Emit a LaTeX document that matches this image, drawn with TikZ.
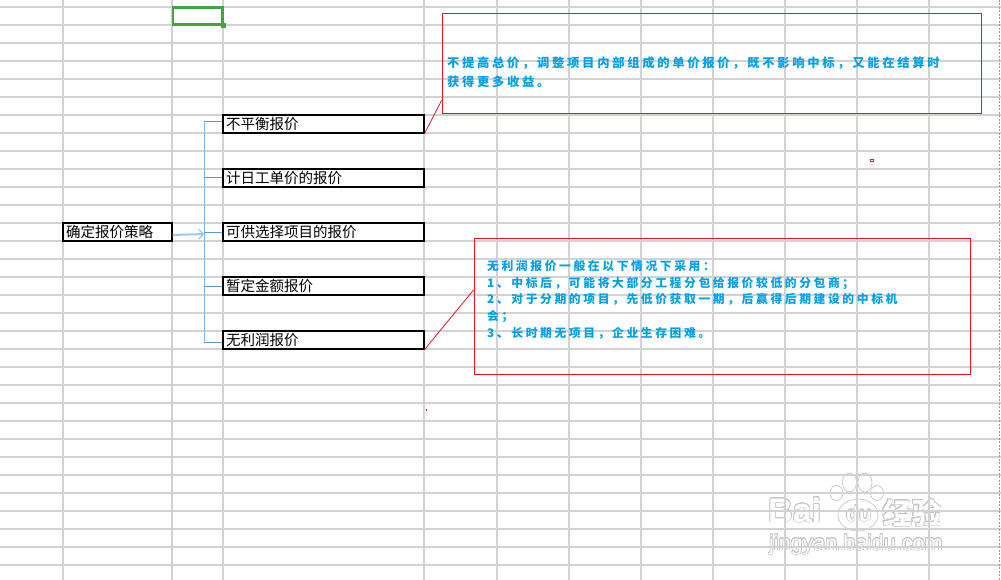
\documentclass[tikz,border=0pt]{standalone}
\usepackage{fontspec}
\usepackage{contour}
\usetikzlibrary{arrows.meta,calc}
\newfontfamily\cjk{Noto Sans CJK SC}
\newfontfamily\cjkA[LetterSpace=22]{Noto Sans CJK SC}
\newfontfamily\cjkB[LetterSpace=22]{Noto Sans CJK SC}
\newfontfamily\wmfont{Liberation Sans}
\definecolor{gridc}{RGB}{210,210,210}
\definecolor{selgreen}{RGB}{65,165,70}
\definecolor{trunkc}{RGB}{130,180,230}
\definecolor{stubc}{RGB}{91,155,213}
\definecolor{arrowc}{RGB}{160,200,236}
\definecolor{notered}{RGB}{232,20,40}
\definecolor{noteblue}{RGB}{0,160,233}
\contourlength{0.7pt}
\tikzset{
  gridline/.style={draw=gridc, line width=1.1pt},
  box/.style={draw=black, line width=1.1pt, fill=white, minimum height=18pt,
    inner xsep=3pt, inner ysep=0pt, font=\cjk\fontsize{14.5}{14.5}\selectfont},
  notebox/.style={draw=notered, line width=1pt, inner sep=0pt},
  notetext/.style={text=noteblue, inner sep=0pt, align=left, anchor=north west},
  trunkline/.style={draw=trunkc, line width=1.6pt},
  stubline/.style={draw=stubc, line width=1pt},
  arrowline/.style={draw=arrowc, line width=2pt, -{Straight Barb[length=5pt,width=10pt,line width=1.2pt]}},
  redline/.style={draw=notered, line width=0.8pt},
  wmshape/.style={draw=gray!45, fill=white, line width=0.7pt},
  wmtext/.style={inner sep=0pt, anchor=base west},
}
\begin{document}
\begin{tikzpicture}[x=1pt,y=-1pt]
\useasboundingbox (0,0) rectangle (1001,580);
\fill[white] (0,0) rectangle (1001,580);
% ---- watermark (under the grid)
\draw[wmshape] (849.5,482.5) ellipse [x radius=7, y radius=9.5];
\draw[wmshape] (865,482.5) ellipse [x radius=7, y radius=9.5];
\draw[wmshape] (836.5,493) ellipse [x radius=6.5, y radius=7.5];
\draw[wmshape] (877,493) ellipse [x radius=6.5, y radius=7.5];
\draw[wmshape] (858,515) ellipse [x radius=20, y radius=16];
\node[wmtext, font=\wmfont\bfseries\fontsize{34}{34}\selectfont] (wmBai) at (768,522) {\contour{gray!45}{\textcolor{white}{Bai}}};
\node[wmtext, font=\wmfont\bfseries\fontsize{21}{21}\selectfont] (wmdu) at (846,521) {\contour{gray!45}{\textcolor{white}{du}}};
\node[wmtext, font=\cjk\bfseries\fontsize{29}{29}\selectfont] (wmjy) at (883,524) {\contour{gray!45}{\textcolor{white}{经验}}};
\node[wmtext, font=\wmfont\fontsize{21.5}{21.5}\selectfont] (wmurl) at (769,550) {\contour{gray!45}{\textcolor{white}{jingyan.baidu.com}}};
% ---- grid
\foreach \k in {0,...,31} \draw[gridline] (0,{7+18*\k}) -- (1001,{7+18*\k});
\foreach \x in {63,172,223,424,497,569,641,713,785,857,929} \draw[gridline] (\x,0) -- (\x,580);
\draw[draw=gray!80, line width=1pt, dash pattern=on 2pt off 1.5pt] (999.5,0) -- (999.5,580);
% ---- selected cell
\draw[selgreen, line width=2.5pt] (173.2,7.3) rectangle (222.7,24.7);
\fill[selgreen] (221,23) rectangle (226,28);
% ---- boxes
\node[box, text width=103pt] (root) at (117.5,232) {确定报价策略};
\node[box, text width=195pt] (b1) at (323.5,124) {不平衡报价};
\node[box, text width=195pt] (b2) at (323.5,178) {计日工单价的报价};
\node[box, text width=195pt] (b3) at (323.5,232) {可供选择项目的报价};
\node[box, text width=195pt] (b4) at (323.5,286) {暂定金额报价};
\node[box, text width=195pt] (b5) at (323.5,340) {无利润报价};
% ---- connectors
\coordinate (trunk) at (204.3,0);
\draw[trunkline] ([yshift=2pt]b1.west -| trunk) -- ([yshift=-2pt]b5.west -| trunk);
\draw[stubline] ([yshift=2pt]b1.west -| trunk) -- ([yshift=2pt]b1.west);
\foreach \b in {b2,b3,b4} \draw[stubline] (\b.west -| trunk) -- (\b.west);
\draw[stubline] ([yshift=-2pt]b5.west -| trunk) -- ([yshift=-2pt]b5.west);
\draw[arrowline] ([yshift=-3pt]root.east) -- ([yshift=-2pt]root.east -| trunk);
% ---- notes
\node[notebox, minimum width=539pt, minimum height=100pt] (note1) at (711.5,64) {};
\node[notebox, minimum width=496pt, minimum height=136pt] (note2) at (722,306) {};
\node[notetext, font=\cjkA\bfseries\fontsize{12.3}{19}\selectfont] (t1) at (447,56.5)
  {不提高总价，调整项目内部组成的单价报价，既不影响中标，又能在结算时\\获得更多收益。};
\node[notetext, font=\cjkB\bfseries\fontsize{11.8}{16.7}\selectfont] (t2) at (487,260)
  {无利润报价一般在以下情况下采用：\\1、中标后，可能将大部分工程分包给报价较低的分包商；\\2、对于分期的项目，先低价获取一期，后赢得后期建设的中标机\\会；\\3、长时期无项目，企业生存困难。};
\draw[redline] (b1.south east) -- ([yshift=14pt]note1.south west);
\draw[redline] (b5.south east) -- ([yshift=16pt]note2.west);
% ---- stray marks
\draw[notered, line width=0.8pt] (870.3,159.3) rectangle (873.3,161.7);
\fill[notered] (425.6,409) rectangle (426.6,411.3);
\end{tikzpicture}
\end{document}
